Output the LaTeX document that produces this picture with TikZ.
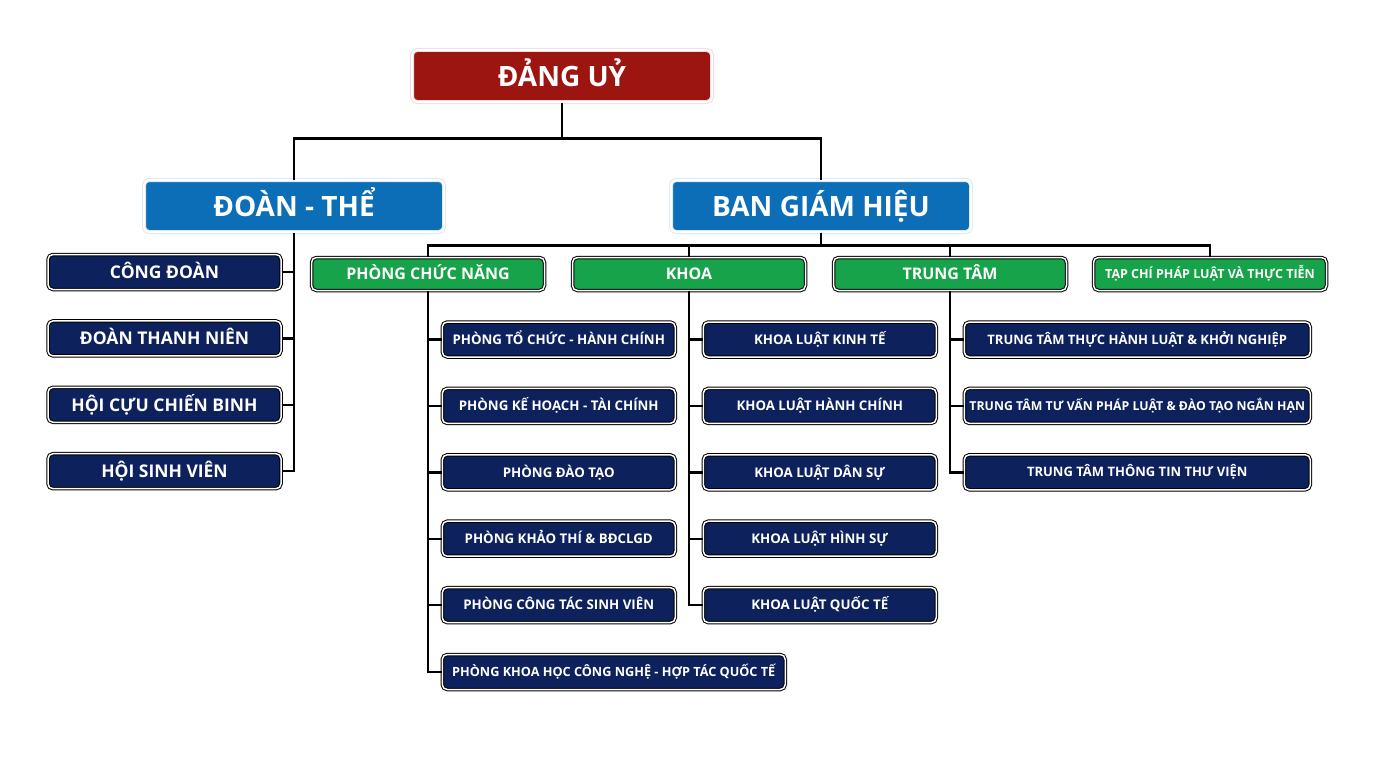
\documentclass[tikz,border=0pt]{standalone}
\usepackage{fontspec}
\setmainfont{Open Sans}
\definecolor{doDam}{HTML}{9C1511}
\definecolor{xanhLam}{HTML}{0B6EB6}
\definecolor{xanhLa}{HTML}{17A34A}
\definecolor{xanhDam}{HTML}{0D215C}
\tikzset{
	co/.style 2 args={font=\fontsize{#1}{#1}\selectfont\bfseries, text height=#2pt, text depth=0pt},
	hop/.style={rounded corners=5pt, text=white, align=center, inner sep=0pt},
	capTren/.style={hop, fill=#1, draw=#1!15, double=white, double distance=2pt, line width=1pt,
		minimum width=300pt, minimum height=52pt, co={28}{20}},
	nhomBox/.style={hop, fill=xanhLa, draw=black, double=white, double distance=1.5pt, line width=1pt,
		minimum width=233pt, minimum height=33pt, co={16}{11.4}},
	donVi/.style={hop, fill=xanhDam, draw=black, double=white, double distance=1.5pt, line width=1pt,
		minimum height=35pt, co={13.3}{9.5}},
	noi/.style={line width=2.4pt, black},
}
\begin{document}
\begin{tikzpicture}[x=1pt,y=-1pt]
\useasboundingbox (0,0) rectangle (1376,768);
\fill[white] (0,0) rectangle (1376,768);

% Cap tren
	\node[capTren=doDam] (dangUy) at (562,76) {ĐẢNG UỶ};
	\node[capTren=xanhLam] (doanThe) at (294,206) {ĐOÀN - THỂ};
	\node[capTren=xanhLam] (bgh) at (821,206) {BAN GIÁM HIỆU};

	\draw[noi] (dangUy.south) -- ++(0,36) -| (doanThe.north);
	\draw[noi] (dangUy.south) -- ++(0,36) -| (bgh.north);

% Doan the
	\foreach \ten [count=\i] in {CÔNG ĐOÀN, ĐOÀN THANH NIÊN, HỘI CỰU CHIẾN BINH, HỘI SINH VIÊN}
		\node[donVi, minimum width=233pt, co={17.5}{12.5}] (doan\i) at (164.5,{272+66.4*(\i-1)}) {\ten};

	\draw[noi] (doanThe.south) |- (doan4.east);
	\foreach \i in {1,2,3}
		\draw[noi] (doan\i.east) -- (doanThe.south |- doan\i.east);

% Ban giam hieu
	\foreach \ten/\x [count=\i] in {PHÒNG CHỨC NĂNG/428, KHOA/689, TRUNG TÂM/950}
		\node[nhomBox] (nhom\i) at (\x,274) {\ten};
	\node[nhomBox, co={12.5}{8.9}] (nhom4) at (1210,274) {TẠP CHÍ PHÁP LUẬT VÀ THỰC TIỄN};

	\foreach \i in {1,...,4}
		\draw[noi] (bgh.south) -- ++(0,13) -| (nhom\i.north);

% Phong chuc nang
	\foreach \ten [count=\i] in {PHÒNG TỔ CHỨC - HÀNH CHÍNH, PHÒNG KẾ HOẠCH - TÀI CHÍNH, PHÒNG ĐÀO TẠO, PHÒNG KHẢO THÍ \& BĐCLGD, PHÒNG CÔNG TÁC SINH VIÊN}
		\node[donVi, anchor=west, minimum width=233pt] (phong\i) at (441.75,{339.5+66.4*(\i-1)}) {\ten};
	\node[donVi, anchor=west, minimum width=343pt, co={12.7}{9.1}] (phong6) at (441.75,672) {PHÒNG KHOA HỌC CÔNG NGHỆ - HỢP TÁC QUỐC TẾ};

	\draw[noi] (nhom1.south) |- (phong6.west);
	\foreach \i in {1,...,5}
		\draw[noi] (phong\i.west) -- (nhom1.south |- phong\i.west);

% Khoa
	\foreach \ten [count=\i] in {KHOA LUẬT KINH TẾ, KHOA LUẬT HÀNH CHÍNH, KHOA LUẬT DÂN SỰ, KHOA LUẬT HÌNH SỰ, KHOA LUẬT QUỐC TẾ}
		\node[donVi, anchor=west, minimum width=233pt] (khoa\i) at (702.75,{339.5+66.4*(\i-1)}) {\ten};

	\draw[noi] (nhom2.south) |- (khoa5.west);
	\foreach \i in {1,...,4}
		\draw[noi] (khoa\i.west) -- (nhom2.south |- khoa\i.west);

% Trung tam
	\foreach \ten/\co/\cao [count=\i] in {TRUNG TÂM THỰC HÀNH LUẬT \& KHỞI NGHIỆP/13/9.3, TRUNG TÂM TƯ VẤN PHÁP LUẬT \& ĐÀO TẠO NGẮN HẠN/12.3/8.8, TRUNG TÂM THÔNG TIN THƯ VIỆN/13/9.3}
		\node[donVi, anchor=west, minimum width=346pt, co={\co}{\cao}] (tt\i) at (963.75,{339.5+66.4*(\i-1)}) {\ten};

	\draw[noi] (nhom3.south) |- (tt3.west);
	\foreach \i in {1,2}
		\draw[noi] (tt\i.west) -- (nhom3.south |- tt\i.west);
\end{tikzpicture}
\end{document}
